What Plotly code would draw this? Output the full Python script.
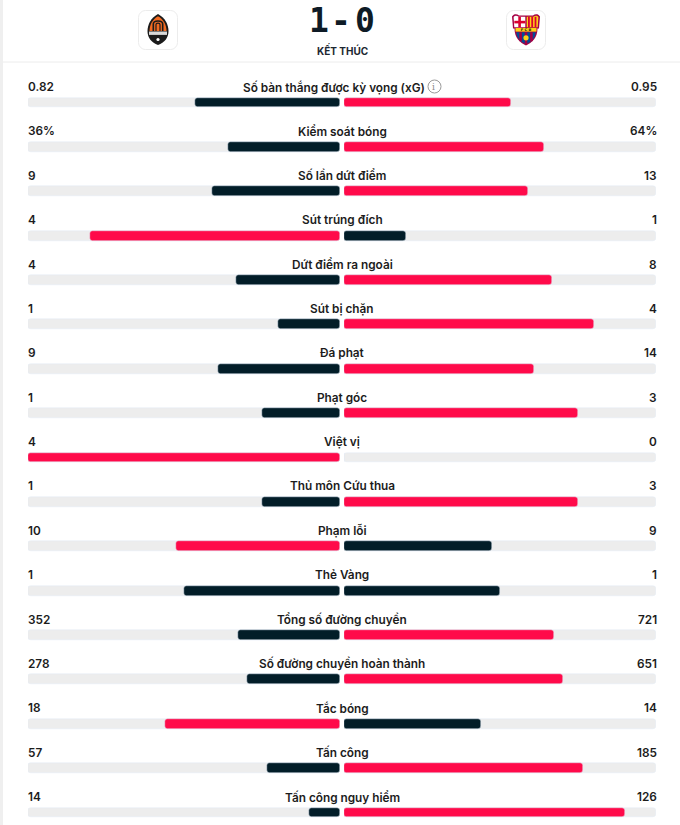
import base64
import plotly.graph_objects as go

# ---------------- data ----------------
stat_labels = [
    "Số bàn thắng được kỳ vọng (xG)",
    "Kiểm soát bóng",
    "Số lần dứt điểm",
    "Sút trúng đích",
    "Dứt điểm ra ngoài",
    "Sút bị chặn",
    "Đá phạt",
    "Phạt góc",
    "Việt vị",
    "Thủ môn Cứu thua",
    "Phạm lỗi",
    "Thẻ Vàng",
    "Tổng số đường chuyền",
    "Số đường chuyền hoàn thành",
    "Tắc bóng",
    "Tấn công",
    "Tấn công nguy hiểm",
]
home_values = [0.82, 36, 9, 4, 4, 1, 9, 1, 4, 1, 10, 1, 352, 278, 18, 57, 14]
away_values = [0.95, 64, 13, 1, 8, 4, 14, 3, 0, 3, 9, 1, 721, 651, 14, 185, 126]
home_text = ["0.82", "36%", "9", "4", "4", "1", "9", "1", "4", "1", "10", "1", "352", "278", "18", "57", "14"]
away_text = ["0.95", "64%", "13", "1", "8", "4", "14", "3", "0", "3", "9", "1", "721", "651", "14", "185", "126"]
score_home, score_away = "1", "0"
status_text = "KẾT THÚC"

# ---------------- style ----------------
RED = "#ff0a4a"
DARK = "#021d28"
TRACK = "#ededed"
TXT = "#1c1c1c"
W, H = 680, 825
ROW0, ROWSTEP = 102.5, 44.375

n = len(stat_labels)
rows = list(range(n))
home_share, away_share, home_col, away_col = [], [], [], []
for h, a in zip(home_values, away_values):
    tot = h + a
    home_share.append(h / tot if tot else 0)
    away_share.append(a / tot if tot else 0)
    home_col.append(RED if h > a else DARK)
    away_col.append(RED if a > h else DARK)

fig = go.Figure()
bw = 0.22
common = dict(orientation="h", base=0, width=bw, hoverinfo="skip", showlegend=False)
fig.add_trace(go.Bar(y=rows, x=[1] * n, marker=dict(color=TRACK, cornerradius=3),
                     xaxis="x", yaxis="y", **common))
fig.add_trace(go.Bar(y=rows, x=home_share, marker=dict(color=home_col, cornerradius=3),
                     xaxis="x", yaxis="y", **common))
fig.add_trace(go.Bar(y=rows, x=[1] * n, marker=dict(color=TRACK, cornerradius=3),
                     xaxis="x2", yaxis="y", **common))
fig.add_trace(go.Bar(y=rows, x=away_share, marker=dict(color=away_col, cornerradius=3),
                     xaxis="x2", yaxis="y", **common))

font_main = dict(family="Inter, Roboto, sans-serif", size=11.8, color=TXT, weight=600)
ann = []
for i in rows:
    ann.append(dict(x=28 / W, y=i, xref="paper", yref="y", text=home_text[i], showarrow=False,
                    xanchor="left", yanchor="middle", yshift=15.5, xshift=-2.5, font=font_main))
    ann.append(dict(x=657 / W, y=i, xref="paper", yref="y", text=away_text[i], showarrow=False,
                    xanchor="right", yanchor="middle", yshift=15.5, xshift=1.5, font=font_main))
    ann.append(dict(x=342 / W, y=i, xref="paper", yref="y", text=stat_labels[i], showarrow=False,
                    xanchor="center", yanchor="middle", yshift=15.5, xshift=-8 if i == 0 else 0,
                    font=font_main))
# info icon next to xG label
ann.append(dict(x=434 / W, y=0, xref="paper", yref="y", text="i", showarrow=False,
                xanchor="center", yanchor="middle", yshift=15.5,
                font=dict(family="DejaVu Serif, serif", size=9, color="#8a8a8a")))

# header
score_font = dict(family="DejaVu Sans Mono, monospace", size=33, color="#0e1b26", weight=700)
for ch, xc in [(score_home, 319), ("-", 341), (score_away, 365)]:
    ann.append(dict(x=xc / W, y=1 - 20 / H, xref="paper", yref="paper", text=ch, showarrow=False,
                    xanchor="center", yanchor="middle", font=score_font))
ann.append(dict(x=342 / W, y=1 - 49.5 / H, xref="paper", yref="paper", text=status_text,
                showarrow=False, xanchor="center", yanchor="middle",
                font=dict(family="Inter, sans-serif", size=10, color="#1c2731", weight=700)))

shapes = [
    dict(type="rect", xref="paper", yref="paper", x0=0, x1=3 / W, y0=0, y1=1,
         fillcolor="#efefef", line=dict(width=0), layer="below"),
    dict(type="line", xref="paper", yref="paper", x0=3 / W, x1=1, y0=1 - 62 / H, y1=1 - 62 / H,
         line=dict(color="#ececec", width=1)),
    dict(type="circle", xref="paper", yref="paper", x0=428 / W, x1=441 / W,
         y0=1 - 93 / H, y1=1 - 80 / H, line=dict(color="#9a9a9a", width=1)),
]

shakhtar_svg = """<svg xmlns='http://www.w3.org/2000/svg' width='40' height='40' viewBox='0 0 40 40'>
<rect x='0.5' y='0.5' width='39' height='39' rx='7' fill='white' stroke='#ececec'/>
<path d='M20 4 C27.5 8 30.5 15 30.5 21 C30.5 28 26.5 32.5 20 35 C13.5 32.5 9.5 28 9.5 21 C9.5 15 12.5 8 20 4 Z' fill='#1b1b1b'/>
<path d='M20 6.2 C26 9.5 28.5 15.5 28.5 21 L11.5 21 C11.5 15.5 14 9.5 20 6.2 Z' fill='#f26a21'/>
<path d='M15.3 21 L15.3 14 C15.3 10 24.7 10 24.7 14 L24.7 21' fill='none' stroke='#1b1b1b' stroke-width='1.6'/>
<path d='M18 21 L18 14.5 C18 12.6 22 12.6 22 14.5 L22 21' fill='none' stroke='#1b1b1b' stroke-width='1.2'/>
<rect x='11' y='21.5' width='18' height='3.4' fill='#d9d9d9'/>
<circle cx='20' cy='29.5' r='1.6' fill='#ffffff'/>
</svg>"""

barca_svg = """<svg xmlns='http://www.w3.org/2000/svg' width='40' height='40' viewBox='0 0 40 40'>
<rect x='0.5' y='0.5' width='39' height='39' rx='7' fill='white' stroke='#ececec'/>
<path d='M6 6.5 C8 3.5 11 4 13 5.5 L27 5.5 C29 4 32 3.5 34 6.5 L33 18.5 L31.5 18.5 C31.5 28 26 32.5 20 35.5 C14 32.5 8.5 28 8.5 18.5 L7 18.5 Z' fill='#a50044'/>
<path d='M7.6 7 C9 5.2 11 5.5 12.5 6.8 L19.3 6.8 L19.3 17.3 L8.3 17.3 Z' fill='#ffffff'/>
<rect x='12.3' y='6.8' width='2.6' height='10.5' fill='#db0030'/>
<rect x='8.3' y='10.8' width='11' height='2.6' fill='#db0030'/>
<path d='M20.7 6.8 L27.5 6.8 C29 5.5 31 5.2 32.4 7 L31.7 17.3 L20.7 17.3 Z' fill='#fcd116'/>
<rect x='22' y='6.8' width='1.8' height='10.5' fill='#db0030'/>
<rect x='25.3' y='6.8' width='1.8' height='10.5' fill='#db0030'/>
<rect x='28.6' y='6.8' width='1.8' height='10.5' fill='#db0030'/>
<rect x='9.5' y='18' width='21' height='3.6' fill='#fcd116'/>
<text x='20' y='21' font-family='DejaVu Sans' font-size='3.6' font-weight='bold' text-anchor='middle' fill='#1b1b1b'>F C B</text>
<path d='M10.3 22.2 L29.7 22.2 C29.3 28.5 25 31.8 20 34 C15 31.8 10.7 28.5 10.3 22.2 Z' fill='#004d98'/>
<rect x='13.3' y='22.2' width='2.6' height='9' fill='#a50044'/>
<rect x='18.7' y='22.2' width='2.6' height='12' fill='#a50044'/>
<rect x='24.1' y='22.2' width='2.6' height='9' fill='#a50044'/>
<circle cx='20' cy='27.8' r='2.6' fill='#fcd116'/>
</svg>"""


def uri(svg):
    return "data:image/svg+xml;base64," + base64.b64encode(svg.encode("utf-8")).decode("ascii")


images = [
    dict(source=uri(shakhtar_svg), xref="paper", yref="paper", x=138 / W, y=1 - 10 / H,
         sizex=40 / W, sizey=40 / H, xanchor="left", yanchor="top", sizing="stretch", layer="above"),
    dict(source=uri(barca_svg), xref="paper", yref="paper", x=506 / W, y=1 - 10 / H,
         sizex=40 / W, sizey=40 / H, xanchor="left", yanchor="top", sizing="stretch", layer="above"),
]

fig.update_layout(
    width=W, height=H, margin=dict(l=0, r=0, t=0, b=0, pad=0),
    paper_bgcolor="white", plot_bgcolor="white",
    barmode="overlay", bargap=0,
    xaxis=dict(domain=[28 / W, 340 / W], range=[1, 0], visible=False, fixedrange=True, anchor="y"),
    xaxis2=dict(domain=[344 / W, 656 / W], range=[0, 1], visible=False, fixedrange=True, anchor="y"),
    yaxis=dict(domain=[0, 1], range=[(H - ROW0) / ROWSTEP, -ROW0 / ROWSTEP], visible=False,
               fixedrange=True),
    annotations=ann, shapes=shapes, images=images,
    showlegend=False,
)

fig.write_html("out.html", config={"displayModeBar": False},
               post_script="document.body.style.margin='0';")
